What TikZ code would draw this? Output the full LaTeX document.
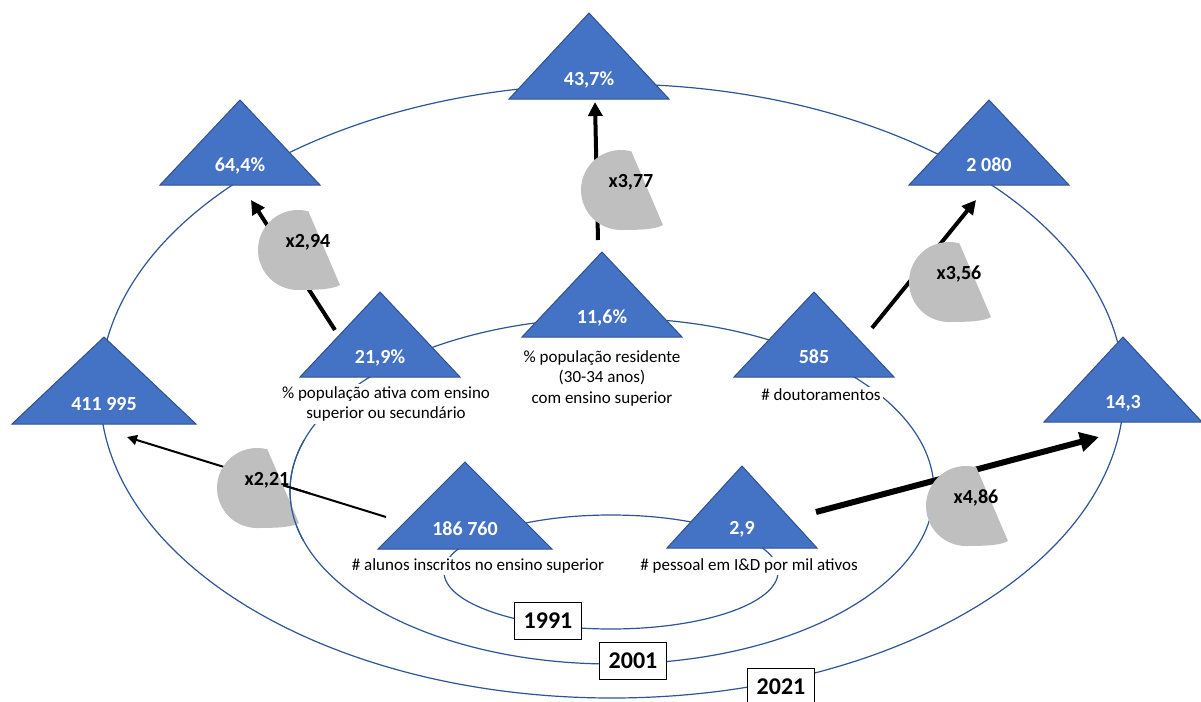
\documentclass[tikz,border=0pt]{standalone}
\usepackage{fontspec}
\setmainfont{Carlito}
\usepackage{tikz}
\usetikzlibrary{arrows.meta}
\definecolor{triblue}{HTML}{4472C4}
\definecolor{triedge}{HTML}{2F528F}
\definecolor{ringblue}{HTML}{2F5597}
\definecolor{piegray}{HTML}{BFBFBF}

\begin{document}
\begin{tikzpicture}[x=0.5pt, y=-0.5pt,
        ring/.style={draw=ringblue, line width=0.6pt},
        tri/.style={fill=triblue, draw=triedge, line width=0.5pt},
        num/.style={anchor=base, text=white, font=\fontsize{10}{12}\selectfont\bfseries},
        lbl/.style={fill=white, align=center, inner sep=1pt, font=\fontsize{8.5}{10.25}\selectfont},
        pie/.style={fill=piegray},
        mult/.style={inner sep=0pt, font=\fontsize{10}{12}\selectfont\bfseries},
        yr/.style={draw, fill=white, line width=0.6pt, minimum width=33.5pt, minimum height=18.5pt, inner sep=0pt, font=\fontsize{12}{14}\selectfont\bfseries}]
    \path[use as bounding box, fill=white] (0,0) rectangle (1201,702);
    \draw[ring] (612,391) ellipse [x radius=512, y radius=307];
    \draw[ring] (612,491) ellipse [x radius=322, y radius=173];
    \draw[ring] (611,572) ellipse [x radius=167, y radius=57];
    \foreach \nm/\ax/\ay/\by/\hw/\txt in {t437/589/13/99/80/{43,7\%}, t644/240/100/185/80/{64,4\%}, t2080/989/100/185/80/{2 080},
            t411/104/337/424/92/{411 995}, t143/1123/337/422/79/{14,3}, t219/380/292/377/80/{21,9\%}, t116/602/252/337/80/{11,6\%},
            t585/814/292/377/80/{585}, t186/465/462/549/87/{186 760}, t29/742/466/548/75/{2,9}}{
        \draw[tri] (\ax,\ay) -- (\ax+\hw,\by) -- (\ax-\hw,\by) -- cycle;
        \coordinate (\nm-a) at (\ax,\ay);
        \node[num] (\nm) at (\ax,\by-13.5) {\txt};
    }
    \node[lbl] (l219) at (386,404) {\% população ativa com ensino\\superior ou secundário};
    \node[lbl] (l116) at (602,378) {\% população residente\\(30-34 anos)\\com ensino superior};
    \node[lbl] (l585) at (821,395) {\# doutoramentos};
    \node[lbl] (l186) at (478,566) {\# alunos inscritos no ensino superior};
    \node[lbl] (l29) at (749,566) {\# pessoal em I\&D por mil ativos};
    \foreach \s/\sx/\sy/\e/\ex/\ey/\lw/\hd in {t219/-45/38/t644/11/100/2pt/7pt, t116/-4/-12/t437/6/89/2pt/7pt, t585/58/36/t2080/-13/100/2pt/7pt,
            t186/-79/55/t411/23/100/1pt/5pt, t29/74/46/t143/-24/100/3pt/9.5pt}
        \draw[-{Triangle[length=\hd,width=\hd]}, line width=\lw] ([shift={(\sx,\sy)}]\s-a) -- ([shift={(\ex,\ey)}]\e-a);
    \foreach \nm/\cx/\cy/\txt in {g294/298/250/{x2,94}, g377/621/190/{x3,77}, g356/949/282/{x3,56}, g221/257/488/{x2,21}, g486/966/506/{x4,86}}{
        \fill[pie] ([shift={(-75:40)}]\cx,\cy) arc[start angle=-75, end angle=-270, radius=40]
            .. controls +(22,0) and +(-7,4) .. ++(42,-5) -- cycle;
        \node[mult] (\nm) at (\cx+10,\cy-8) {\txt};
    }
    \begin{scope}
        \clip (283,440) rectangle (310,540);
        \draw[ring] (612,491) ellipse [x radius=322, y radius=173];
        \draw[line width=1pt] ([shift={(-79,55)}]t186-a) -- ([shift={(23,100)}]t411-a);
    \end{scope}
    \node[yr] (y1991) at (548,621) {1991};
    \node[yr] (y2001) at (633,661) {2001};
    \node[yr] (y2021) at (781,687) {2021};
\end{tikzpicture}
\end{document}
